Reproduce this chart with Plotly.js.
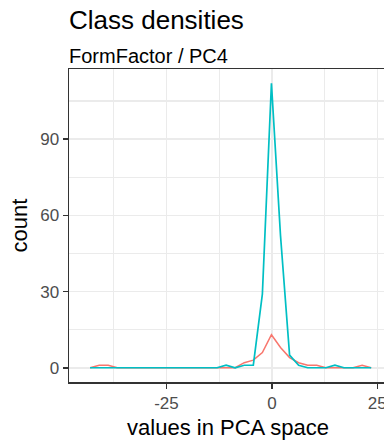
<!DOCTYPE html>
<html>
<head>
<meta charset="utf-8">
<script src="https://cdn.plot.ly/plotly-3.0.1.min.js"></script>
<style>
html, body { margin: 0; padding: 0; overflow: hidden; background: #fff; width: 384px; height: 443px; }
#chart { width: 390px; height: 443px; }
</style>
</head>
<body>
<div id="chart"></div>
<script>
// Bin centres (values in PCA space) of the frequency polygon
const binCenters = [-43.10, -40.95, -38.80, -36.65, -34.50, -32.35, -30.20, -28.05,
  -25.90, -23.75, -21.60, -19.45, -17.30, -15.15, -13.00, -10.85, -8.70, -6.55,
  -4.40, -2.25, -0.10, 2.05, 4.20, 6.35, 8.50, 10.65, 12.80, 14.95, 17.10, 19.25,
  21.40, 23.55];
// Counts per class
const countsRed  = [0, 1, 1, 0, 0, 0, 0, 0, 0, 0, 0, 0, 0, 0, 0, 0, 0, 2,
  3, 6, 13, 8, 4, 2, 1, 1, 0, 0, 0, 0, 1, 0];
const countsCyan = [0, 0, 0, 0, 0, 0, 0, 0, 0, 0, 0, 0, 0, 0, 0, 1, 0, 1,
  1, 29, 112, 52, 5, 1, 0, 0, 0, 1, 0, 0, 0, 0];
const xTickVals = [-25, 0, 25];
const xTickText = ['-25', '0', '25'];
const xMinorVals = [-37.5, -12.5, 12.5];
const yTickVals = [0, 30, 60, 90];
const yTickText = ['0', '30', '60', '90'];
const yMinorVals = [15, 45, 75, 105];
const titleText = 'Class densities';
const subtitleText = 'FormFactor / PC4';
const xTitle = 'values in PCA space';
const yTitle = 'count';

const FONT = '"Liberation Sans", Arial, sans-serif';
const traces = [
  { x: binCenters, y: countsRed, type: 'scatter', mode: 'lines',
    line: { color: '#F8766D', width: 1.5 }, hoverinfo: 'skip' },
  { x: binCenters, y: countsCyan, type: 'scatter', mode: 'lines',
    line: { color: '#00BFC4', width: 1.7 }, hoverinfo: 'skip' }
];

const axisCommon = {
  showline: true, linecolor: '#333333', linewidth: 1.5,
  ticks: 'outside', ticklen: 5, tickwidth: 1.5, tickcolor: '#333333',
  gridcolor: '#EBEBEB', gridwidth: 1.6, zeroline: false,
  tickfont: { family: FONT, size: 17, color: '#4D4D4D' }
};

const layout = {
  width: 390, height: 443,
  margin: { l: 69, r: 3, t: 69, b: 61, pad: 0 },
  paper_bgcolor: '#ffffff', plot_bgcolor: '#ffffff',
  showlegend: false,
  font: { family: FONT },
  title: {
    text: titleText,
    font: { family: FONT, size: 26, color: '#000000' },
    xref: 'paper', x: 0, xanchor: 'left',
    yref: 'container', y: 1 - 11 / 443, yanchor: 'top'
  },
  annotations: [{
    text: subtitleText, xref: 'paper', x: 0, xanchor: 'left', xshift: -2,
    yref: 'paper', y: 1, yanchor: 'bottom', yshift: 0,
    showarrow: false, font: { family: FONT, size: 20, color: '#000000' }
  }],
  xaxis: Object.assign({}, axisCommon, {
    range: [-48.1, 27.3], mirror: true,
    tickmode: 'array', tickvals: xTickVals, ticktext: xTickText,
    minor: { tickmode: 'array', tickvals: xMinorVals, showgrid: true,
             gridcolor: '#EBEBEB', gridwidth: 1.1, ticks: '' },
    title: { text: xTitle, font: { family: FONT, size: 22, color: '#000000' }, standoff: 7 }
  }),
  yaxis: Object.assign({}, axisCommon, {
    range: [-5.6, 117.6],
    tickmode: 'array', tickvals: yTickVals, ticktext: yTickText,
    minor: { tickmode: 'array', tickvals: yMinorVals, showgrid: true,
             gridcolor: '#EBEBEB', gridwidth: 1.1, ticks: '' },
    title: { text: yTitle, font: { family: FONT, size: 22, color: '#000000' }, standoff: 6 }
  })
};

Plotly.newPlot('chart', traces, layout, { staticPlot: true, displayModeBar: false });
</script>
</body>
</html>
